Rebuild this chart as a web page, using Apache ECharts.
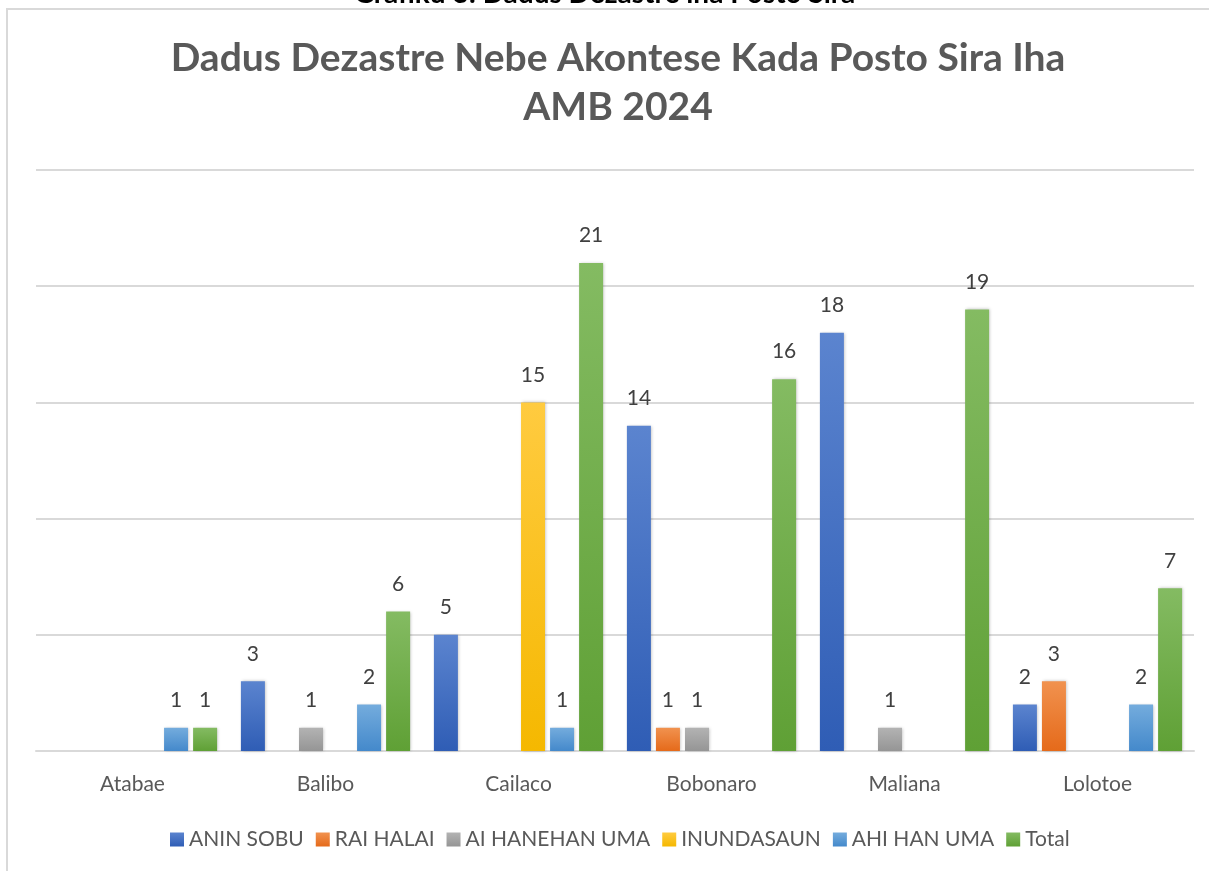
<!DOCTYPE html>
<html>
<head>
<meta charset="utf-8">
<script src="https://cdn.jsdelivr.net/npm/echarts@6/dist/echarts.min.js"></script>
<style>
  html, body { margin: 0; padding: 0; background: #fff; }
  #grafika { width: 1209px; height: 871px; }
</style>
</head>
<body>
<div id="grafika"></div>
<script>
var postos = ["Atabae", "Balibo", "Cailaco", "Bobonaro", "Maliana", "Lolotoe"];
var aninSobu = [0, 3, 5, 14, 18, 2];
var raiHalai = [0, 0, 0, 1, 0, 3];
var aiHanehanUma = [0, 1, 0, 1, 1, 0];
var inundasaun = [0, 0, 15, 0, 0, 0];
var ahiHanUma = [1, 2, 1, 0, 0, 2];
var total = [1, 6, 21, 16, 19, 7];

var koresTop = ["#5b84cf", "#f1924f", "#b3b3b3", "#ffcb40", "#74acdd", "#84bb62"];
var koresBottom = ["#2f5db5", "#e56a1a", "#959595", "#f5b800", "#4489cb", "#5fa035"];

function serie(naran, dadus, i) {
  return {
    name: naran,
    type: "bar",
    data: dadus,
    barWidth: 24,
    barGap: "21%",
    itemStyle: {
      color: new echarts.graphic.LinearGradient(0, 0, 0, 1, [
        { offset: 0, color: koresTop[i] },
        { offset: 1, color: koresBottom[i] },
      ]),
      shadowBlur: 3,
      shadowOffsetX: 1,
      shadowColor: "rgba(0,0,0,0.25)",
    },
    label: {
      show: true,
      position: "top",
      distance: 17,
      color: "#404040",
      fontSize: 21,
      fontFamily: "Lato",
      formatter: function (p) {
        return p.value ? p.value : "";
      },
    },
  };
}

var chart = echarts.init(document.getElementById("grafika"));
chart.setOption({
  animation: false,
  textStyle: { fontFamily: "Lato" },
  graphic: [
    {
      type: "rect",
      shape: { x: 7, y: 9, width: 1220, height: 880 },
      style: { fill: "none", stroke: "#d9d9d9", lineWidth: 2 },
    },
    {
      type: "text",
      left: "center",
      top: -20,
      style: {
        text: "Grafiku 3: Dadus Dezastre iha Posto Sira",
        font: "bold 28px Lato",
        fill: "#000",
      },
    },
  ],
  title: {
    text: "Dadus Dezastre Nebe Akontese Kada Posto Sira Iha\nAMB 2024",
    left: 613,
    textAlign: "center",
    top: 29,
    textStyle: {
      fontFamily: "Lato",
      fontWeight: "bold",
      fontSize: 39,
      lineHeight: 49,
      color: "#595959",
    },
  },
  legend: {
    bottom: 16,
    left: 165,
    itemWidth: 14,
    itemHeight: 14,
    itemGap: 12,
    icon: "rect",
    textStyle: { fontSize: 21, color: "#595959", fontFamily: "Lato" },
    data: ["ANIN SOBU", "RAI HALAI", "AI HANEHAN UMA", "INUNDASAUN", "AHI HAN UMA", "Total"],
  },
  grid: { left: 36, right: 15, top: 170, bottom: 120 },
  xAxis: {
    type: "category",
    data: postos,
    axisTick: { show: false },
    axisLine: { lineStyle: { color: "#d9d9d9", width: 2 } },
    axisLabel: { color: "#595959", fontSize: 21, margin: 23 },
  },
  yAxis: {
    type: "value",
    min: 0,
    max: 25,
    interval: 5,
    axisLabel: { show: false },
    axisLine: { show: false },
    splitLine: { lineStyle: { color: "#d9d9d9", width: 2 } },
  },
  series: [
    serie("ANIN SOBU", aninSobu, 0),
    serie("RAI HALAI", raiHalai, 1),
    serie("AI HANEHAN UMA", aiHanehanUma, 2),
    serie("INUNDASAUN", inundasaun, 3),
    serie("AHI HAN UMA", ahiHanUma, 4),
    serie("Total", total, 5),
  ],
});
</script>
</body>
</html>
